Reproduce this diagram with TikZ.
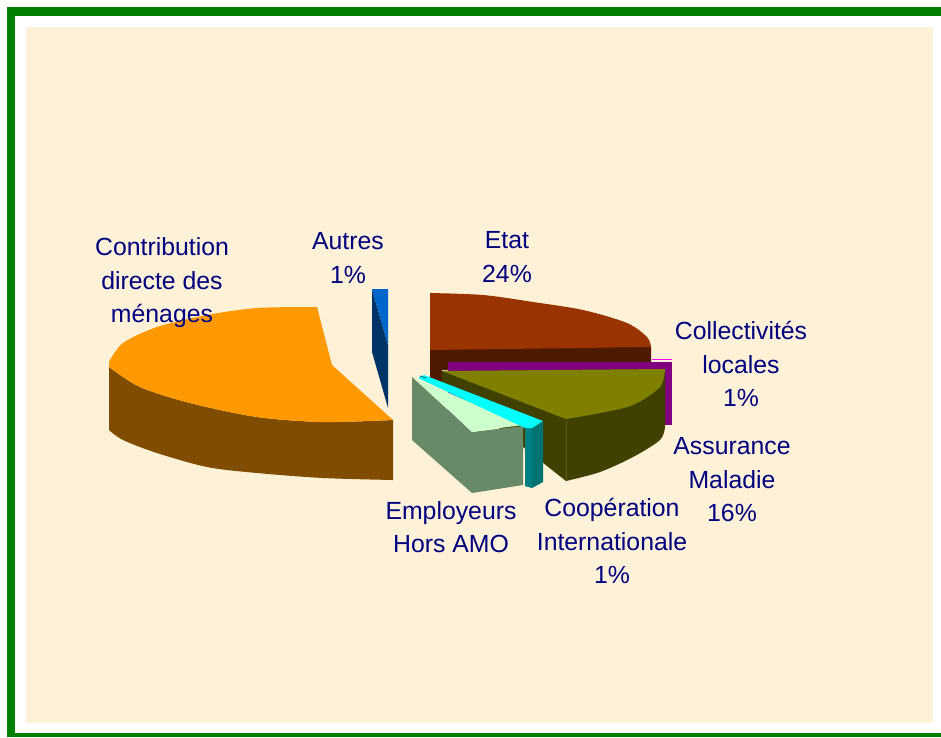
\documentclass[tikz,border=0pt]{standalone}
\usepackage{fontspec}
\setmainfont{Liberation Sans}
\definecolor{frame}{HTML}{008000}
\definecolor{paper}{RGB}{253,241,216}
\definecolor{lab}{HTML}{000080}
\definecolor{orangetop}{HTML}{FF9900}
\definecolor{orangeside}{HTML}{7F4C00}
\definecolor{etattop}{HTML}{993300}
\definecolor{etatside}{HTML}{4D1A00}
\definecolor{purp}{HTML}{800080}
\definecolor{magl}{HTML}{FF00FF}
\definecolor{olivetop}{HTML}{808000}
\definecolor{oliveside}{HTML}{404000}
\definecolor{oliveline}{HTML}{5C5C14}
\definecolor{emptop}{HTML}{CCFFCC}
\definecolor{empside}{HTML}{688A68}
\definecolor{cyantop}{HTML}{00FFFF}
\definecolor{tealside}{HTML}{008080}
\definecolor{bluetop}{HTML}{0066CC}
\definecolor{navyside}{HTML}{003366}
\begin{document}
\begin{tikzpicture}[x=1pt,y=-1pt,
  lbl/.style={text=lab,align=center,font=\fontsize{24.8}{33.5}\selectfont,inner sep=0pt}]
\useasboundingbox (0,0) rectangle (941,737);
\fill[white] (0,0) rectangle (941,737);
\fill[paper] (26,27) rectangle (933,723);
% green frame
\fill[frame] (7,7) rectangle (941,16);
\fill[frame] (7,7) rectangle (15,737);
\fill[frame] (7,733) rectangle (941,737);

% Contribution directe des menages
\fill[orangeside] (109,365) -- (109,430)
  -- plot[smooth] coordinates {(109,430) (123,440) (157,453) (207,467) (257,473) (323,478) (393,480)}
  -- (393,420)
  -- plot[smooth] coordinates {(393,420) (323,422) (257,417) (190,403) (140,387) (109,367)} -- cycle;
\fill[orangetop] (393,420) -- (332,365) -- (317,307)
  -- plot[smooth] coordinates {(317,307) (257,308) (207,315) (157,327) (123,343) (109,362)}
  -- plot[smooth] coordinates {(109,367) (140,387) (190,403) (257,417) (323,422) (393,420)} -- cycle;

% Autres
\fill[navyside] (372,289) -- (388,345) -- (388,408) -- (372,352) -- cycle;
\fill[bluetop] (372,289) -- (388,289) -- (388,345) -- cycle;

% Etat
\fill[etatside] (430,349) -- (651,346) -- (651,362) -- (442,370) -- (442,385) -- (430,382) -- cycle;
\fill[etattop] (430,293)
  -- plot[smooth] coordinates {(430,293) (483,295) (533,302) (583,310) (627,323) (647,337) (651,347)}
  -- (430,350) -- cycle;

% Collectivites locales
\draw[magl,line width=1.5pt] (652,359.5) -- (672,359.5);
\fill[purp] (448,362) rectangle (672,425);

% Assurance Maladie
\fill[oliveside] (442,371) -- (442,383) -- (566,481)
  -- plot[smooth] coordinates {(566,481) (600,472) (633,457) (660,440) (665,427)}
  -- (665,369) -- cycle;
\fill[olivetop] (442,371) -- (665,369)
  -- plot[smooth] coordinates {(665,369) (660,387) (633,405) (600,413) (566,419)} -- cycle;
\draw[oliveline,line width=0.8pt] (566,420) -- (566,480);

% Employeurs Hors AMO
\fill[empside] (412,377) -- (472,432) -- (523,426) -- (523,485) -- (472,493) -- (412,440) -- cycle;
\fill[emptop] (414,378) -- (523,425)
  -- plot[smooth] coordinates {(523,425) (500,428) (472,432)} -- cycle;

% Cooperation Internationale
\fill[tealside] (525,428) -- (532,428) -- (532,488) -- (525,486) -- cycle;
\fill[tealside!90!black] (532,428) -- (543,421) -- (543,482) -- (532,488) -- cycle;
\fill[cyantop] (418,378) -- (424,375) -- (543,421) -- (532,428) -- (525,428) -- cycle;
\draw[tealside,line width=1pt] (420,376) -- (426,378);

% labels
\node[lbl] (contrib) at (162,283) {Contribution\\directe des\\ménages};
\node[lbl] (autres) at (348,258) {Autres\\1\%};
\node[lbl] (etat) at (507,257) {Etat\\24\%};
\node[lbl] (coll) at (741,364) {Collectivités\\locales\\1\%};
\node[lbl] (assur) at (732,480) {Assurance\\Maladie\\16\%};
\node[lbl] (employ) at (451,527) {Employeurs\\Hors AMO};
\node[lbl] (coop) at (612,541) {Coopération\\Internationale\\1\%};
\end{tikzpicture}
\end{document}
